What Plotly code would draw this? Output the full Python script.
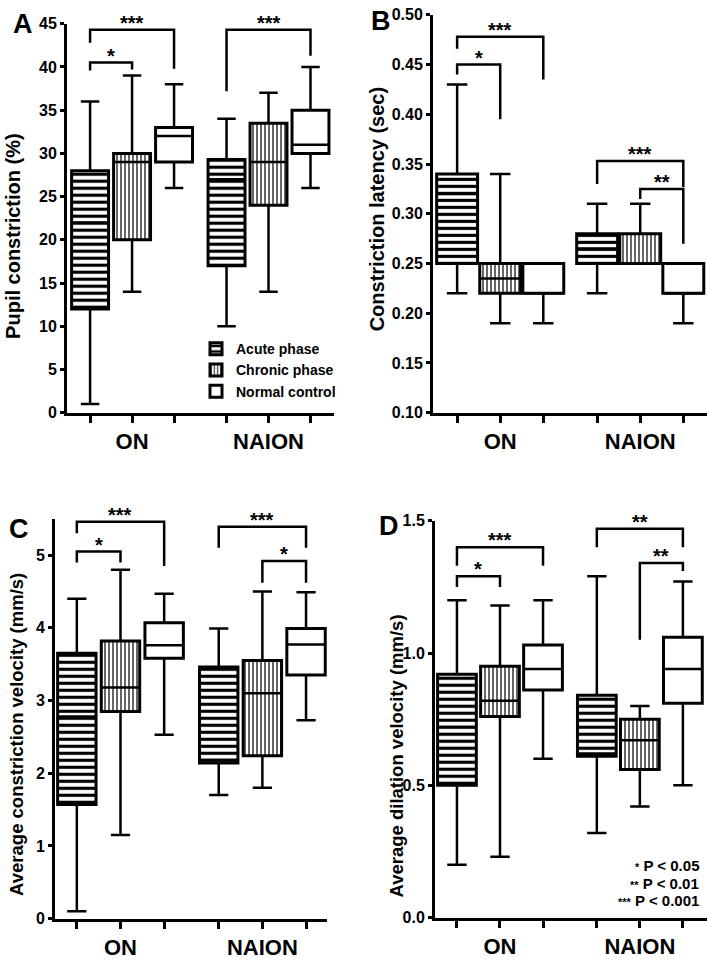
import plotly.graph_objects as go

# ---------------- data ----------------
groups = ["ON", "NAION"]
series = ["Acute phase", "Chronic phase", "Normal control"]

# each list: [ON acute, ON chronic, ON normal, NAION acute, NAION chronic, NAION normal]
A_min = [1, 14, 26, 10, 14, 26]
A_q1 = [12, 20, 29, 17, 24, 30]
A_med = [22, 29, 32, 27, 29, 31]
A_q3 = [28, 30, 33, 29.3, 33.5, 35]
A_max = [36, 39, 38, 34, 37, 40]

B_min = [0.22, 0.19, 0.19, 0.22, 0.25, 0.19]
B_q1 = [0.25, 0.22, 0.22, 0.25, 0.25, 0.22]
B_med = [0.32, 0.235, 0.22, 0.265, 0.25, 0.22]
B_q3 = [0.34, 0.25, 0.25, 0.28, 0.28, 0.25]
B_max = [0.43, 0.34, 0.25, 0.31, 0.31, 0.25]

C_min = [0.1, 1.15, 2.53, 1.7, 1.8, 2.73]
C_q1 = [1.57, 2.85, 3.58, 2.14, 2.24, 3.35]
C_med = [2.78, 3.18, 3.76, 2.18, 3.1, 3.77]
C_q3 = [3.65, 3.82, 4.07, 3.46, 3.55, 3.99]
C_max = [4.4, 4.8, 4.47, 3.99, 4.5, 4.49]

D_min = [0.2, 0.23, 0.6, 0.32, 0.42, 0.5]
D_q1 = [0.5, 0.76, 0.86, 0.61, 0.56, 0.81]
D_med = [0.72, 0.82, 0.94, 0.62, 0.67, 0.94]
D_q3 = [0.92, 0.95, 1.03, 0.84, 0.75, 1.06]
D_max = [1.2, 1.18, 1.2, 1.29, 0.8, 1.27]

# significance brackets: (box_from, box_to, y_bar, y_left_end, y_right_end, label)
A_sig = [(0, 1, 40.5, 39.6, 39.7, "*"), (0, 2, 44.3, 42.8, 39.8, "***"),
         (3, 5, 44.3, 37.2, 41.3, "***")]
B_sig = [(0, 1, 0.45, 0.44, 0.395, "*"), (0, 2, 0.478, 0.466, 0.435, "***"),
         (3, 5, 0.353, 0.33, 0.327, "***"), (4, 5, 0.325, 0.315, 0.27, "**")]
C_sig = [(0, 1, 5.05, 4.9, 4.9, "*"), (0, 2, 5.46, 5.3, 4.85, "***"),
         (3, 5, 5.39, 5.1, 5.1, "***"), (4, 5, 4.92, 4.62, 4.62, "*")]
D_sig = [(0, 1, 1.29, 1.25, 1.25, "*"), (0, 2, 1.40, 1.33, 1.33, "***"),
         (3, 5, 1.47, 1.40, 1.40, "**"), (4, 5, 1.34, 1.05, 1.31, "**")]

y_titles = ["Pupil constriction (%)", "Constriction latency (sec)",
            "Average constriction velocity (mm/s)", "Average dilation velocity (mm/s)"]
panel_letters = ["A", "B", "C", "D"]
y_ticks = [[0, 5, 10, 15, 20, 25, 30, 35, 40, 45],
           [0.10, 0.15, 0.20, 0.25, 0.30, 0.35, 0.40, 0.45, 0.50],
           [0, 1, 2, 3, 4, 5],
           [0.0, 0.5, 1.0, 1.5]]
y_tick_text = [[str(v) for v in y_ticks[0]],
               ["%.2f" % v for v in y_ticks[1]],
               [str(v) for v in y_ticks[2]],
               ["%.1f" % v for v in y_ticks[3]]]
y_ranges = [[0, 45], [0.1, 0.5], [0, 5.5], [0, 1.5]]
p_notes = ["*", "**", "***"]
p_texts = ["P < 0.05", "P < 0.01", "P < 0.001"]

# ---------------- layout constants ----------------
FONT = "Liberation Sans"
W, H = 707, 960
positions = [0, 1, 2, 3.25, 4.25, 5.25]
patterns = ["-", "|", ""]

panels = [
    dict(data=(A_min, A_q1, A_med, A_q3, A_max), sig=A_sig, px=(67, 334), py=(16, 412),
         xr=[-0.55, 5.81], bw=0.88),
    dict(data=(B_min, B_q1, B_med, B_q3, B_max), sig=B_sig, px=(433, 707), py=(7, 412),
         xr=[-0.56, 5.8], bw=0.95),
    dict(data=(C_min, C_q1, C_med, C_q3, C_max), sig=C_sig, px=(55, 327), py=(520, 927),
         xr=[-0.5, 5.73], bw=0.88),
    dict(data=(D_min, D_q1, D_med, D_q3, D_max), sig=D_sig, px=(435, 707), py=(522, 926),
         xr=[-0.51, 5.81], bw=0.9),
]

fig = go.Figure()
annotations = []

for k, p in enumerate(panels):
    xa = "x" if k == 0 else "x%d" % (k + 1)
    ya = "y" if k == 0 else "y%d" % (k + 1)
    mn, q1, med, q3, mx = p["data"]
    bw = p["bw"]
    for s in range(3):
        idx = [s, s + 3]
        xs = [positions[i] for i in idx]
        pat = dict(shape=patterns[s], fgcolor="black", bgcolor="white", fgopacity=1)
        if s == 0:
            pat.update(size=7, solidity=0.45)
        elif s == 1:
            pat.update(size=4, solidity=0.3)
        fig.add_trace(go.Bar(
            x=xs, y=[q3[i] - q1[i] for i in idx], base=[q1[i] for i in idx],
            width=bw, xaxis=xa, yaxis=ya, name=series[s],
            showlegend=(k == 0), legendgroup=series[s],
            marker=dict(color="white", line=dict(color="black", width=3), pattern=pat),
            hoverinfo="skip"))
    # whiskers, caps and medians
    wx, wy, mx_, my_ = [], [], [], []
    cap = bw * 0.25
    for i in range(6):
        x0 = positions[i]
        wx += [x0, x0, None, x0, x0, None, x0 - cap, x0 + cap, None, x0 - cap, x0 + cap, None]
        wy += [q3[i], mx[i], None, q1[i], mn[i], None, mx[i], mx[i], None, mn[i], mn[i], None]
        mx_ += [x0 - bw / 2, x0 + bw / 2, None]
        my_ += [med[i], med[i], None]
    fig.add_trace(go.Scatter(x=wx, y=wy, mode="lines", xaxis=xa, yaxis=ya,
                             line=dict(color="black", width=2.5), showlegend=False,
                             hoverinfo="skip"))
    fig.add_trace(go.Scatter(x=mx_, y=my_, mode="lines", xaxis=xa, yaxis=ya,
                             line=dict(color="black", width=2.5), showlegend=False,
                             hoverinfo="skip"))
    # significance brackets
    bx, by = [], []
    for (a, b, yb, yl, yr, lab) in p["sig"]:
        xa0, xb0 = positions[a], positions[b]
        bx += [xa0, xa0, xb0, xb0, None]
        by += [yl, yb, yb, yr, None]
        annotations.append(dict(x=(xa0 + xb0) / 2, y=yb, xref=xa, yref=ya, text=lab,
                                showarrow=False, yanchor="bottom", yshift=-6,
                                font=dict(family=FONT, size=20, color="black", weight="bold")))
    fig.add_trace(go.Scatter(x=bx, y=by, mode="lines", xaxis=xa, yaxis=ya,
                             line=dict(color="black", width=2.5), showlegend=False,
                             hoverinfo="skip"))

    xd = [p["px"][0] / W, p["px"][1] / W]
    yd = [1 - p["py"][1] / H, 1 - p["py"][0] / H]
    axkey = "xaxis" if k == 0 else "xaxis%d" % (k + 1)
    aykey = "yaxis" if k == 0 else "yaxis%d" % (k + 1)
    fig.layout[axkey] = dict(
        domain=xd, anchor=ya, range=p["xr"], tickvals=positions,
        ticktext=["", groups[0], "", "", groups[1], ""], ticks="outside", ticklen=7,
        tickwidth=2.5, tickcolor="black", showline=True, linewidth=3, linecolor="black",
        showgrid=False, zeroline=False,
        tickfont=dict(family=FONT, size=22, color="black", weight="bold"))
    fig.layout[aykey] = dict(
        domain=yd, anchor=xa, range=y_ranges[k], tickvals=y_ticks[k], ticktext=y_tick_text[k],
        ticks="outside", ticklen=4, tickwidth=2.5, tickcolor="black", showline=True,
        linewidth=3, linecolor="black", showgrid=False, zeroline=False,
        tickfont=dict(family=FONT, size=16, color="black", weight="bold"))

# y axis titles
title_pos = [(13, 232, 20), (377, 205, 20), (17, 740, 18.5), (397, 761, 18.5)]
for k, (tx, ty, fs) in enumerate(title_pos):
    annotations.append(dict(x=tx / W, y=1 - ty / H, xref="paper", yref="paper",
                            text=y_titles[k], textangle=-90, showarrow=False,
                            xanchor="center", yanchor="middle",
                            font=dict(family=FONT, size=fs, color="black", weight="bold")))
# panel letters
letter_pos = [(23, 16), (381, 13), (19, 530), (389, 527)]
for k, (tx, ty) in enumerate(letter_pos):
    annotations.append(dict(x=tx / W, y=1 - ty / H, xref="paper", yref="paper",
                            text=panel_letters[k], showarrow=False,
                            xanchor="center", yanchor="middle",
                            font=dict(family=FONT, size=27, color="black", weight="bold")))
# p-value notes
for j in range(3):
    annotations.append(dict(x=701 / W, y=1 - (873 + 18 * j) / H, xref="paper", yref="paper",
                            text="<span style='font-size:11px'>%s</span> %s" % (p_notes[j], p_texts[j]),
                            showarrow=False, xanchor="right", yanchor="middle",
                            font=dict(family=FONT, size=15, color="black", weight="bold")))

fig.update_layout(
    width=W, height=H, margin=dict(l=0, r=0, t=0, b=0),
    paper_bgcolor="white", plot_bgcolor="white", barmode="overlay",
    annotations=annotations,
    legend=dict(x=196 / W, y=1 - 331 / H, xanchor="left", yanchor="top",
                bgcolor="rgba(0,0,0,0)", tracegroupgap=0, itemwidth=30,
                font=dict(family=FONT, size=14, color="black", weight="bold")),
)

fig.write_html("out.html", config={"displayModeBar": False},
               post_script="document.body.style.margin='0';")
